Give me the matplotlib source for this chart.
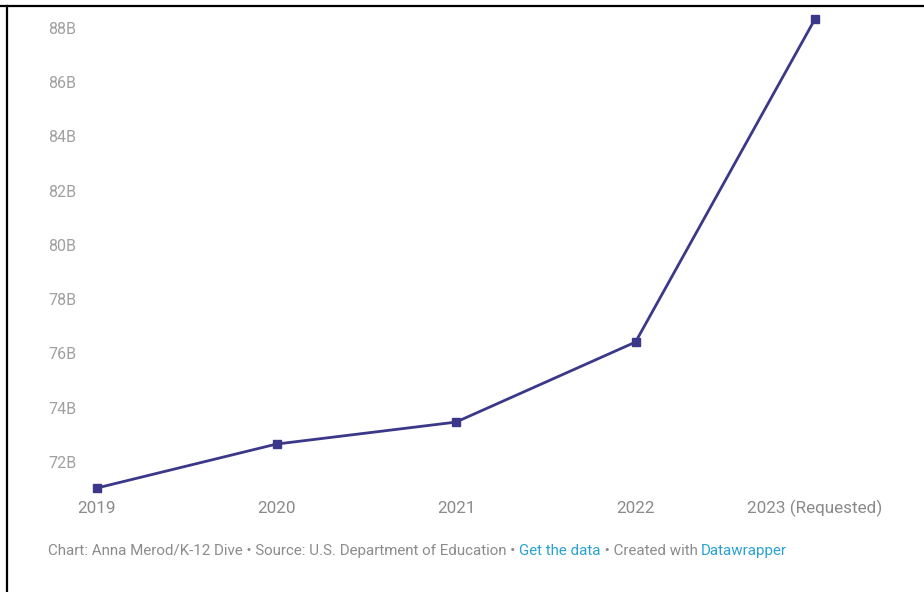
import matplotlib

matplotlib.use("Agg")
import matplotlib.pyplot as plt
from matplotlib.lines import Line2D

plt.rcParams["font.family"] = ["Roboto", "DejaVu Sans"]

# Department of Education budget, billions of dollars
years = ["2019", "2020", "2021", "2022", "2023 (Requested)"]
budget = [71.04, 72.66, 73.47, 76.42, 88.33]
ytick_values = [72, 74, 76, 78, 80, 82, 84, 86, 88]
ytick_labels = [f"{v}B" for v in ytick_values]

LINE = "#3b3889"
TICK = "#a0a0a0"
XTICK = "#8a8a8a"
NOTE = "#8c8c8c"
LINK = "#2aa1d3"

W, H = 924, 592
fig = plt.figure(figsize=(W / 100, H / 100), dpi=100)
ax = fig.add_axes([97 / W, 1 - 488 / H, (815 - 97) / W, (488 - 19) / H])

xs = list(range(len(years)))
ax.plot(xs, budget, color=LINE, linewidth=2.0, marker="s", markersize=5.5,
        clip_on=False, zorder=3)

ax.set_xlim(0, len(years) - 1)
ax.set_ylim(71.04, 88.33)
ax.set_xticks(xs)
ax.set_xticklabels(years)
ax.set_yticks(ytick_values)
ax.set_yticklabels(ytick_labels)

for side in ["top", "right", "bottom", "left"]:
    ax.spines[side].set_visible(False)

ax.tick_params(axis="x", length=0, pad=18, labelsize=12.3, labelcolor=XTICK)
ax.tick_params(axis="y", length=0, pad=35.3, labelsize=11.5, labelcolor=TICK)
for lab in ax.get_xticklabels():
    lab.set_verticalalignment("baseline")
for lab in ax.get_yticklabels():
    lab.set_horizontalalignment("left")

# caption with coloured links, laid out piece by piece
pieces = [
    ("Chart: Anna Merod/K-12 Dive \u2022 Source: U.S. Department of Education \u2022 ", NOTE),
    ("Get the data", LINK),
    (" \u2022 Created with ", NOTE),
    ("Datawrapper", LINK),
]
fig.canvas.draw()
renderer = fig.canvas.get_renderer()
x = 48 / W
for txt, col in pieces:
    t = fig.text(x, 1 - 551 / H, txt, color=col, fontsize=10.9, va="center", ha="left")
    bb = t.get_window_extent(renderer=renderer)
    x += bb.width / W

# black frame along the top and left edges
fig.add_artist(Line2D([0, 1], [1 - 5.5 / H, 1 - 5.5 / H], transform=fig.transFigure,
                      color="black", linewidth=1.6))
fig.add_artist(Line2D([7.5 / W, 7.5 / W], [0, 1 - 5.5 / H], transform=fig.transFigure,
                      color="black", linewidth=1.6))

fig.savefig("out.png", dpi=100, facecolor="white")
